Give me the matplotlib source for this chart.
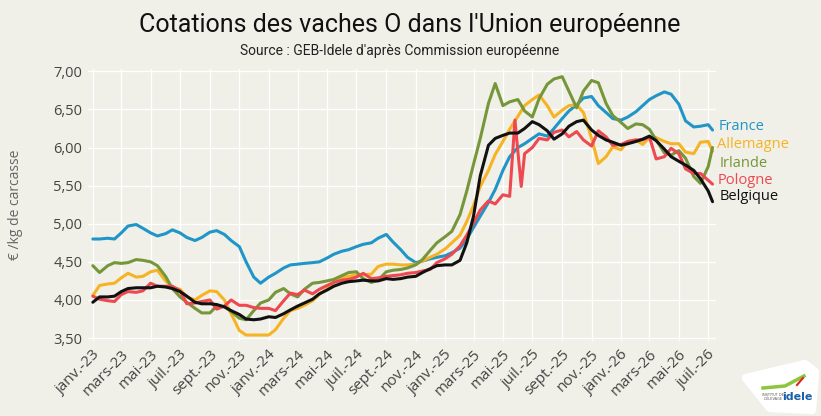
import matplotlib
matplotlib.use("Agg")
import matplotlib.pyplot as plt
from matplotlib.patches import Polygon
import pandas as pd

# semi-monthly readings, Jan 2023 -> Jul 2026 (last point 10 Jul 2026)
dates = list(pd.date_range("2023-01-01", "2026-07-01", freq="SMS")) + [pd.Timestamp("2026-07-10")]

france = [
    4.80, 4.80, 4.81, 4.80, 4.88, 4.97, 4.99, 4.94, 4.88, 4.84,
    4.87, 4.92, 4.88, 4.82, 4.78, 4.82, 4.89, 4.91, 4.86, 4.78,
    4.70, 4.50, 4.30, 4.22, 4.30, 4.35, 4.42, 4.46, 4.47, 4.48,
    4.49, 4.50, 4.55, 4.60, 4.64, 4.66, 4.70, 4.73, 4.75, 4.81,
    4.86, 4.76, 4.66, 4.56, 4.49, 4.51, 4.54, 4.56, 4.58, 4.62,
    4.68, 4.80, 4.95, 5.10, 5.28, 5.45, 5.70, 5.88, 6.00, 6.05,
    6.12, 6.18, 6.15, 6.25, 6.38, 6.48, 6.56, 6.65, 6.67, 6.55,
    6.46, 6.38, 6.36, 6.40, 6.47, 6.55, 6.63, 6.68, 6.73, 6.70,
    6.57, 6.35, 6.27, 6.28, 6.30, 6.23,
]
allemagne = [
    4.06, 4.19, 4.21, 4.22, 4.29, 4.35, 4.30, 4.31, 4.37, 4.39,
    4.25, 4.17, 4.14, 4.04, 4.00, 4.06, 4.12, 4.11, 4.00, 3.82,
    3.60, 3.54, 3.54, 3.54, 3.54, 3.61, 3.76, 3.86, 3.89, 3.93,
    3.99, 4.07, 4.15, 4.23, 4.29, 4.31, 4.33, 4.33, 4.34, 4.44,
    4.47, 4.47, 4.46, 4.46, 4.47, 4.51, 4.56, 4.60, 4.67, 4.75,
    4.85, 5.03, 5.24, 5.49, 5.70, 5.91, 6.08, 6.24, 6.41, 6.55,
    6.63, 6.69, 6.55, 6.40, 6.49, 6.55, 6.56, 6.46, 6.12, 5.79,
    5.88, 6.01, 5.97, 6.08, 6.10, 6.04, 6.13, 6.13, 6.08, 6.05,
    6.05, 5.94, 5.92, 6.07, 6.08, 5.95,
]
irlande = [
    4.45, 4.36, 4.45, 4.49, 4.48, 4.49, 4.53, 4.52, 4.50, 4.45,
    4.31, 4.15, 4.04, 3.97, 3.89, 3.83, 3.83, 3.92, 3.91, 3.85,
    3.76, 3.74, 3.86, 3.96, 4.00, 4.10, 4.15, 4.08, 4.04, 4.14,
    4.22, 4.23, 4.25, 4.27, 4.32, 4.36, 4.37, 4.28, 4.23, 4.26,
    4.37, 4.39, 4.40, 4.42, 4.46, 4.53, 4.65, 4.75, 4.83, 4.90,
    5.12, 5.43, 5.78, 6.12, 6.58, 6.84, 6.55, 6.60, 6.63, 6.48,
    6.40, 6.64, 6.83, 6.90, 6.93, 6.74, 6.52, 6.74, 6.88, 6.85,
    6.58, 6.42, 6.33, 6.25, 6.31, 6.30, 6.24, 6.10, 5.93, 5.90,
    5.96, 5.86, 5.62, 5.53, 5.75, 6.00,
]
pologne = [
    4.05, 4.01, 3.99, 3.98, 4.07, 4.11, 4.10, 4.12, 4.22, 4.18,
    4.18, 4.18, 4.12, 3.95, 3.96, 3.98, 4.00, 3.88, 3.92, 4.00,
    3.93, 3.93, 3.90, 3.89, 3.89, 3.86, 3.99, 4.09, 4.07, 4.13,
    4.08, 4.14, 4.19, 4.23, 4.26, 4.27, 4.30, 4.35, 4.28, 4.29,
    4.31, 4.32, 4.33, 4.35, 4.36, 4.38, 4.40, 4.49, 4.54, 4.60,
    4.71, 4.85, 5.01, 5.18, 5.30, 5.26, 5.38, 5.36, 5.95, 5.92,
    6.00, 6.12, 6.10, 6.20, 6.23, 6.14, 6.21, 6.10, 6.02, 6.22,
    6.14, 6.03, 6.04, 6.08, 6.10, 6.10, 6.14, 5.85, 5.88, 5.99,
    5.92, 5.72, 5.66, 5.66, 5.57, 5.52,
]
# short spike / dip of the Polish quote in late May - early June 2025
pologne_spike_dates = ["2025-05-26", "2025-06-08"]
pologne_spike_values = [6.36, 5.49]
belgique = [
    3.97, 4.04, 4.04, 4.05, 4.11, 4.15, 4.16, 4.16, 4.16, 4.18,
    4.17, 4.15, 4.11, 4.05, 3.97, 3.95, 3.95, 3.94, 3.91, 3.86,
    3.81, 3.75, 3.74, 3.75, 3.78, 3.77, 3.82, 3.87, 3.92, 3.96,
    4.01, 4.08, 4.13, 4.18, 4.22, 4.24, 4.25, 4.26, 4.25, 4.25,
    4.28, 4.27, 4.28, 4.30, 4.31, 4.36, 4.41, 4.45, 4.46, 4.46,
    4.52, 4.75, 5.10, 5.63, 6.03, 6.12, 6.16, 6.19, 6.19, 6.25,
    6.34, 6.30, 6.22, 6.11, 6.18, 6.28, 6.34, 6.36, 6.23, 6.16,
    6.10, 6.07, 6.03, 6.05, 6.08, 6.11, 6.15, 6.09, 5.98, 5.88,
    5.82, 5.77, 5.70, 5.59, 5.43, 5.29,
]

countries = ["France", "Allemagne", "Irlande", "Pologne", "Belgique"]
colors = ["#1f95c8", "#f6b324", "#76963a", "#ee4850", "#111111"]

tick_labels = [
    "janv.-23", "mars-23", "mai-23", "juil.-23", "sept.-23", "nov.-23",
    "janv.-24", "mars-24", "mai-24", "juil.-24", "sept.-24", "nov.-24",
    "janv.-25", "mars-25", "mai-25", "juil.-25", "sept.-25", "nov.-25",
    "janv.-26", "mars-26", "mai-26", "juil.-26",
]
y_ticks = [3.5, 4.0, 4.5, 5.0, 5.5, 6.0, 6.5, 7.0]

BG = "#f0f0e8"
TXT = "#444444"

pl = pd.concat([
    pd.Series(pologne, index=dates),
    pd.Series(pologne_spike_values, index=pd.to_datetime(pologne_spike_dates)),
]).sort_index()

series = {
    "France": pd.Series(france, index=dates),
    "Allemagne": pd.Series(allemagne, index=dates),
    "Irlande": pd.Series(irlande, index=dates),
    "Pologne": pl,
    "Belgique": pd.Series(belgique, index=dates),
}

fig = plt.figure(figsize=(8.21, 4.16), dpi=100, facecolor=BG)
ax = fig.add_axes([0.1072, 0.180, 0.7648, 0.654])
ax.set_facecolor(BG)

for name, col in zip(countries, colors):
    s = series[name]
    ax.plot(s.index, s.values, color=col, lw=2.2, solid_capstyle="round", zorder=3)

tick_pos = pd.date_range("2023-01-01", "2026-07-01", freq="2MS")
ax.set_xticks(tick_pos)
ax.set_xticklabels(tick_labels, rotation=45, ha="right", rotation_mode="anchor",
                   fontsize=11, color=TXT, family="Open Sans")
ax.set_xlim(pd.Timestamp("2022-12-22"), pd.Timestamp("2026-07-17"))

ax.set_yticks(y_ticks)
ax.set_yticklabels([f"{v:.2f}".replace(".", ",") for v in y_ticks],
                   fontsize=10.5, color=TXT, family="Open Sans")
ax.set_ylim(3.46, 7.03)
ax.set_ylabel("€ /kg de carcasse", fontsize=10, color="#666666", family="Open Sans", labelpad=22)

ax.tick_params(length=0, pad=4)
ax.grid(True, color="white", lw=1.0, zorder=0)
for sp in ax.spines.values():
    sp.set_visible(False)

# labels at the end of each line
label_y = [127, 144, 164, 180, 197]
label_x = [719, 717, 720, 718, 720]
for name, col, lx, ly in zip(countries, colors, label_x, label_y):
    fig.text(lx / 821, 1 - ly / 416, name, color=col, fontsize=10.5,
             family="Open Sans", va="center", ha="left")

fig.text(410 / 821, 1 - 25 / 416, "Cotations des vaches O dans l'Union européenne",
         ha="center", va="center", fontsize=18, color="#111111", family="Roboto")
fig.text(400 / 821, 1 - 51 / 416, "Source : GEB-Idele d'après Commission européenne",
         ha="center", va="center", fontsize=10, color="#222222", family="Roboto")

# idele logo (rough)
logo = Polygon([(746 / 821, 1 - 378 / 416), (805 / 821, 1 - 364 / 416),
                (815 / 821, 1 - 372 / 416), (812 / 821, 1 - 410 / 416),
                (770 / 821, 1 - 408 / 416)],
               closed=True, transform=fig.transFigure, facecolor="white",
               edgecolor="white", lw=6, joinstyle="round")
fig.patches.append(logo)
fig.text(797 / 821, 1 - 397 / 416, "idele", color="#1d5ea8", fontsize=8,
         fontweight="bold", ha="center", va="center")
fig.text(773 / 821, 1 - 397 / 416, "INSTITUT DE\nL'ÉLEVAGE", color="#555555",
         fontsize=2.5, ha="center", va="center", linespacing=1.0)
fig.lines.append(plt.Line2D([763 / 821, 785 / 821, 804 / 821],
                            [1 - 388 / 416, 1 - 386 / 416, 1 - 376 / 416],
                            transform=fig.transFigure, color="#8cc63f", lw=2.5))
fig.lines.append(plt.Line2D([797 / 821, 803 / 821],
                            [1 - 385 / 416, 1 - 378 / 416],
                            transform=fig.transFigure, color="#e2231a", lw=1.5))

fig.savefig("out.png", dpi=100, facecolor=BG)
